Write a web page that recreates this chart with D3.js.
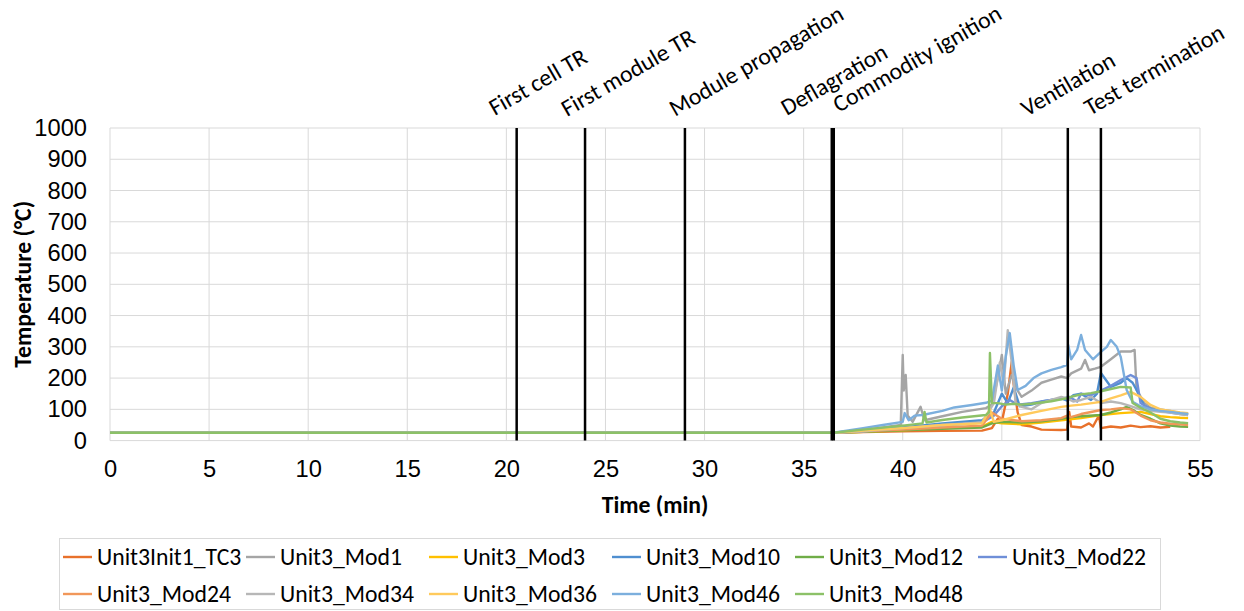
<!DOCTYPE html>
<html>
<head>
<meta charset="utf-8">
<script src="https://cdn.jsdelivr.net/npm/d3@7"></script>
<style>
  html, body { margin: 0; padding: 0; background: #fff; }
  svg { display: block; font-family: Carlito, Calibri, Lato, "Open Sans", sans-serif; }
</style>
</head>
<body>
<svg id="chart" width="1244" height="611"></svg>
<script>
// ---------------- DATA ----------------
const xTicks = [0, 5, 10, 15, 20, 25, 30, 35, 40, 45, 50, 55];
const yTicks = [0, 100, 200, 300, 400, 500, 600, 700, 800, 900, 1000];

const eventNames = ["First cell TR", "First module TR", "Module propagation", "Deflagration", "Commodity ignition", "Ventilation", "Test termination"];
const eventTimes = [20.52, 23.97, 29.01, 36.42, 36.52, 48.33, 50.0];

const seriesNames = ["Unit3Init1_TC3", "Unit3_Mod1", "Unit3_Mod3", "Unit3_Mod10", "Unit3_Mod12", "Unit3_Mod22",
                     "Unit3_Mod24", "Unit3_Mod34", "Unit3_Mod36", "Unit3_Mod46", "Unit3_Mod48"];

// [time (min), temperature (°C)]
const tc3 = [[0,25],[36.5,25],[38,27],[40,30],[42,31],[44,32],[44.5,40],[44.8,70],[45.0,60],[45.3,150],[45.5,252],[45.6,180],[45.8,90],[46.0,50],[46.5,45],[47,35],[48,34],[48.3,35],[48.4,92],[48.5,45],[49,42],[49.4,55],[49.6,45],[49.9,80],[50.0,40],[50.5,45],[51,42],[51.5,48],[52,43],[52.5,46],[53,42],[53.5,44]];
const mod1 = [[0,25],[36.5,25],[38,33],[39.9,50],[40.0,274],[40.05,160],[40.15,210],[40.25,80],[40.5,60],[40.9,108],[41.1,65],[42,78],[43,92],[44.2,104],[44.5,115],[44.8,200],[45.0,274],[45.2,150],[45.5,210],[45.8,160],[46,140],[46.5,160],[47,185],[47.5,195],[48,205],[48.3,200],[48.5,215],[49,230],[49.2,258],[49.4,225],[49.7,230],[50,236],[50.5,260],[51,285],[51.5,285],[51.7,290],[51.8,162],[52.2,120],[52.5,105],[53,100],[53.5,95],[54,88],[54.4,85]];
const mod3 = [[0,25],[36.5,25],[38,28],[40,33],[42,40],[44,45],[44.5,60],[45,55],[46,52],[47,58],[48,65],[49,72],[50,82],[51,88],[52,92],[52.5,85],[53,78],[53.5,75],[54,73],[54.4,72]];
const mod10 = [[0,25],[36.5,25],[38,32],[40,42],[42,55],[44,65],[44.6,90],[45,150],[45.3,120],[45.6,170],[45.9,110],[46.5,115],[47,125],[47.5,130],[48,135],[48.3,128],[48.6,145],[49,150],[49.5,130],[49.8,150],[50,216],[50.3,190],[50.5,172],[51,185],[51.3,200],[51.6,185],[51.8,162],[52.2,110],[52.6,100],[53,95],[53.5,92],[54,88],[54.4,84]];
const mod12 = [[0,25],[36.5,25],[38,28],[40,33],[42,38],[44,42],[44.5,55],[45,60],[46,58],[47,62],[48,70],[48.5,75],[49,78],[50,82],[50.5,90],[51,100],[51.3,108],[51.7,95],[52,82],[52.5,70],[53,55],[53.5,48],[54,45],[54.4,44]];
const mod22 = [[0,25],[36.5,25],[38,30],[40,38],[42,48],[44,58],[44.6,80],[45,110],[45.4,130],[45.8,115],[46.5,120],[47,125],[47.5,130],[48,133],[48.4,140],[48.8,125],[49,150],[49.5,145],[50,160],[50.5,175],[51,194],[51.5,210],[51.8,200],[52,120],[52.5,100],[53,95],[53.5,90],[54,85],[54.4,82]];
const mod24 = [[0,25],[36.5,25],[38,30],[40,35],[42,42],[44,48],[44.5,90],[45,70],[46,62],[47,65],[48,72],[48.3,80],[48.5,75],[49,85],[50,98],[50.5,100],[51,104],[51.5,100],[52,80],[52.5,65],[53,58],[53.5,54],[54,52],[54.4,50]];
const mod34 = [[0,25],[36.5,25],[38,30],[40,40],[42,50],[44,58],[44.6,120],[44.9,250],[45.1,180],[45.3,353],[45.5,250],[45.7,120],[46,108],[46.5,100],[47,120],[47.5,130],[48,140],[48.3,135],[48.6,125],[49,130],[49.5,140],[50,120],[50.5,125],[51,120],[51.5,110],[52,100],[52.5,95],[53,92],[53.5,90],[54,85],[54.4,82]];
const mod36 = [[0,25],[36.5,25],[38,32],[40,40],[42,50],[44,55],[44.4,100],[44.6,60],[45,65],[46,82],[47,95],[48,108],[48.5,112],[49,115],[50,124],[50.5,135],[51,145],[51.5,156],[52,140],[52.5,114],[53,100],[53.5,95],[54,90],[54.4,88]];
const mod46 = [[0,25],[36.5,25],[38,40],[39,50],[40,60],[40.1,88],[40.3,65],[40.6,80],[41,82],[42,95],[42.6,106],[43.5,114],[44.2,121],[44.5,128],[44.8,240],[45.0,160],[45.2,270],[45.4,344],[45.6,240],[45.8,162],[46.2,175],[46.6,200],[47,215],[47.5,226],[48.0,235],[48.3,242],[48.35,306],[48.5,260],[48.8,290],[49.0,338],[49.2,290],[49.6,260],[50,284],[50.3,300],[50.5,322],[50.8,300],[51.0,268],[51.3,162],[51.6,124],[52,110],[52.5,100],[53,95],[53.5,92],[54,88],[54.4,85]];
const mod48 = [[0,25],[36.5,25],[38,35],[40,48],[41.0,55],[41.1,92],[41.2,58],[42,66],[43,74],[44.2,82],[44.35,90],[44.4,280],[44.5,120],[44.8,120],[45.2,115],[45.6,118],[46,115],[46.5,118],[47,122],[47.5,126],[48,132],[48.3,136],[48.6,142],[49,148],[49.5,152],[50,158],[50.5,165],[51,172],[51.5,170],[51.6,120],[52,105],[52.5,90],[53,70],[53.5,62],[54,58],[54.4,56]];

const seriesData = [tc3, mod1, mod3, mod10, mod12, mod22, mod24, mod34, mod36, mod46, mod48];
const seriesColors = ["#E8712B", "#A5A5A5", "#FFC000", "#4F8FD0", "#70AD47", "#6F8FD8",
                      "#F1975A", "#B7B7B7", "#FFCA5C", "#7CAFDD", "#8CC168"];

// ---------------- LAYOUT ----------------
const plot = { left: 110, right: 1200, top: 128, bottom: 440.6 };
// horizontal offsets (px) of each event label's start relative to its line
const labelDx = [-22, -18, -10, -45, 5, -41, -11];
const labelY = [116, 117, 117, 116, 113, 117, 116];

const svg = d3.select("#chart");
const x = d3.scaleLinear().domain([0, 55]).range([plot.left, plot.right]);
const y = d3.scaleLinear().domain([0, 1000]).range([plot.bottom, plot.top]);

const fontSize = 23.7;

// gridlines
svg.append("g").selectAll("line.h").data(yTicks).join("line")
  .attr("x1", plot.left).attr("x2", plot.right)
  .attr("y1", d => y(d)).attr("y2", d => y(d))
  .attr("stroke", "#d9d9d9").attr("stroke-width", 1);
svg.append("g").selectAll("line.v").data(xTicks).join("line")
  .attr("y1", plot.top).attr("y2", plot.bottom)
  .attr("x1", d => x(d)).attr("x2", d => x(d))
  .attr("stroke", "#d9d9d9").attr("stroke-width", 1);

// axes (labels only)
const yAxis = svg.append("g").attr("transform", `translate(${plot.left},0)`)
  .call(d3.axisLeft(y).tickValues(yTicks).tickSize(0).tickPadding(23).tickFormat(d3.format("d")));
yAxis.select(".domain").remove();
yAxis.selectAll("text").attr("font-size", fontSize).attr("fill", "#000").attr("font-family", null);

const xAxis = svg.append("g").attr("transform", `translate(0,${plot.bottom})`)
  .call(d3.axisBottom(x).tickValues(xTicks).tickSize(0).tickPadding(20).tickFormat(d3.format("d")));
xAxis.select(".domain").remove();
xAxis.selectAll("text").attr("font-size", fontSize).attr("fill", "#000").attr("font-family", null);

// series lines
const line = d3.line().x(d => x(d[0])).y(d => y(d[1]));
svg.append("g").selectAll("path").data(seriesData).join("path")
  .attr("d", line)
  .attr("fill", "none")
  .attr("stroke", (d, i) => seriesColors[i])
  .attr("stroke-width", 2.4)
  .attr("stroke-linejoin", "round");

// event lines
svg.append("g").selectAll("line").data(eventTimes).join("line")
  .attr("x1", d => x(d)).attr("x2", d => x(d))
  .attr("y1", plot.top).attr("y2", plot.bottom)
  .attr("stroke", "#000").attr("stroke-width", 2.5);

// event labels
svg.append("g").selectAll("text").data(eventNames).join("text")
  .attr("transform", (d, i) => `translate(${x(eventTimes[i]) + labelDx[i]},${labelY[i]}) rotate(-30)`)
  .attr("font-size", fontSize)
  .attr("fill", "#000")
  .text(d => d);

// axis titles
svg.append("text")
  .attr("transform", `translate(31,${(plot.top + plot.bottom) / 2}) rotate(-90)`)
  .attr("text-anchor", "middle")
  .attr("font-size", fontSize).attr("font-weight", "bold")
  .text("Temperature (°C)");
svg.append("text")
  .attr("x", 655).attr("y", 513)
  .attr("text-anchor", "middle")
  .attr("font-size", fontSize).attr("font-weight", "bold")
  .text("Time (min)");

// legend
const legend = svg.append("g");
legend.append("rect")
  .attr("x", 59.5).attr("y", 538.5).attr("width", 1101).attr("height", 71)
  .attr("fill", "none").attr("stroke", "#d9d9d9");
const cols = 6, colW = 183, legX = 63, rowY = [557, 594];
const items = legend.selectAll("g.item").data(seriesNames).join("g")
  .attr("transform", (d, i) => `translate(${legX + (i % cols) * colW},${rowY[Math.floor(i / cols)]})`);
items.append("line").attr("x1", 0).attr("x2", 29).attr("y1", 0).attr("y2", 0)
  .attr("stroke", (d, i) => seriesColors[i]).attr("stroke-width", 2.4);
items.append("text").attr("x", 34).attr("y", 0).attr("dy", "0.35em")
  .attr("font-size", fontSize).attr("fill", "#000").text(d => d);
</script>
</body>
</html>
